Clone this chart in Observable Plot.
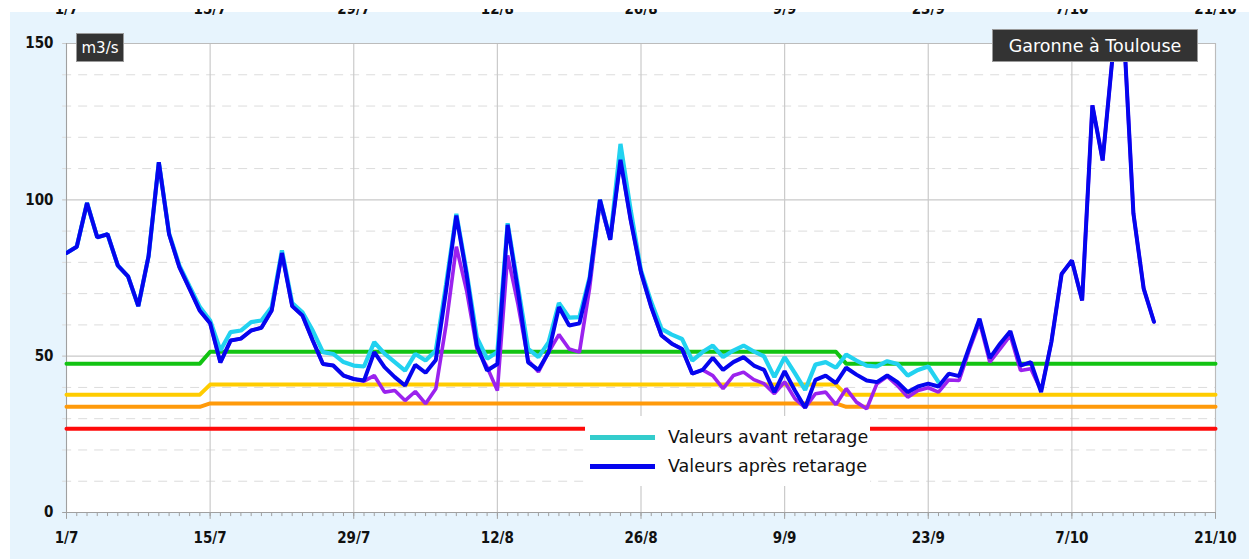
<!DOCTYPE html>
<html>
<head>
<meta charset="utf-8">
<script src="https://cdn.jsdelivr.net/npm/d3@7"></script>
<script src="https://cdn.jsdelivr.net/npm/@observablehq/plot@0.6"></script>
<style>
  html, body { margin: 0; padding: 0; background: #fff; }
  #wrap { position: relative; width: 1249px; height: 559px; overflow: hidden; font-family: "DejaVu Sans", sans-serif; }
  #chart svg { display: block; }
  #mask { position: absolute; left: 0; top: 0; width: 1249px; height: 9px; background: #fff; }
  .tag { position: absolute; box-sizing: border-box; background: #333; color: #fff; border: 1px solid #9a9a9a;
         display: flex; align-items: center; justify-content: center; white-space: nowrap; }
  #unit { left: 76px; top: 33px; width: 48px; height: 29px; font-size: 15px; }
  #title { left: 992px; top: 29px; width: 206px; height: 33px; font-size: 17.5px; }
  #legend { position: absolute; left: 585px; top: 416px; width: 285px; height: 70px; background: #fff; }
  #legend .row { position: absolute; left: 0; height: 20px; display: flex; align-items: center; }
  #legend .sw { position: absolute; left: 5px; width: 65px; height: 5px; }
  #legend .lab { position: absolute; left: 83px; font-size: 17.5px; color: #111; white-space: nowrap; line-height: 20px; }
</style>
</head>
<body>
<div id="wrap">
  <div id="chart"></div>
  <div id="mask"></div>
  <div class="tag" id="unit"></div>
  <div class="tag" id="title"></div>
  <div id="legend"></div>
</div>
<script>
// ---------- data ----------
const year = 2022;
const tickLabels = ["1/7", "15/7", "29/7", "12/8", "26/8", "9/9", "23/9", "7/10", "21/10"];
const yTickValues = [0, 10, 20, 30, 40, 50, 60, 70, 80, 90, 100, 110, 120, 130, 140, 150];
const yLabelValues = [0, 50, 100, 150];
const unitLabel = "m3/s";
const titleLabel = "Garonne à Toulouse";
const seriesNames = ["Valeurs avant retarage", "Valeurs après retarage"];

// daily flows from 1/7 (index 0)
const apres = [83, 85, 99, 88, 89, 79, 75.5, 66, 82, 112,
  89, 78.5, 71.5, 64.5, 60.5, 48, 55, 55.6, 58.2, 59.1,
  64.6, 83, 66, 63, 55, 47.5, 47, 43.8, 42.7, 42.2,
  51.3, 46.5, 43.3, 40.6, 47.2, 44.7, 48.8, 71, 95, 76,
  53.4, 45.4, 47.5, 92, 71, 48, 45.6, 51.3, 65.7, 59.8,
  60.5, 74.7, 100, 87.2, 112.8, 93.4, 76.8, 65.7, 56.6, 54,
  52.3, 44.4, 45.6, 49.5, 45.6, 48.1, 49.7, 47, 45.6, 38.5,
  45.2, 39, 33.5, 42.4, 43.8, 41.4, 46.3, 44.1, 42.2, 41.7,
  43.8, 41.7, 38.5, 40.3, 41.2, 40.3, 44.4, 43.6, 52.9, 62,
  49.4, 54, 58, 47, 48.1, 38.5, 54.5, 76.3, 80.6, 67.8,
  130.2, 112.6, 147, 158, 95.6, 71.6, 61];

const avant = [83, 85, 99, 88, 89, 79, 75.5, 66, 82, 112,
  89.3, 79, 72.3, 65.7, 61.4, 51.8, 57.7, 58.2, 60.9, 61.4,
  65.7, 83.8, 67, 64, 58.2, 51.3, 50.7, 48.1, 47, 46.7,
  54.5, 50.8, 48.1, 45.4, 50.7, 48.6, 51.8, 73, 95.5, 77,
  56, 49.2, 51.3, 92.5, 72.5, 52.3, 49.7, 54.5, 67, 62.3,
  62.5, 75.3, 100, 87.5, 117.9, 96.6, 77.4, 67.3, 58.7, 56.9,
  55.5, 48.6, 51.3, 53.4, 49.7, 51.8, 53.4, 51.5, 49.9, 43.3,
  49.7, 44.6, 39.2, 47.3, 48.1, 46.3, 50.5, 48.6, 47, 46.7,
  48.4, 47.5, 43.8, 45.6, 46.7, 41.7];

const autre = [83, 85, 99, 88, 89, 79, 75.5, 66, 82, 112,
  89, 78.5, 71.5, 64.5, 60.5, 48, 55, 55.6, 58.2, 59.1,
  64.6, 83, 66, 63, 55, 47.5, 47, 43.8, 42.7, 42,
  43.8, 38.5, 39, 35.8, 38.7, 34.8, 39.6, 60, 85, 71,
  52.4, 46.5, 39, 82.2, 66.7, 48.6, 45, 51.3, 56.9, 52.3,
  51.3, 72, 99, 87.2, 112.8, 93.4, 76.8, 65.7, 56.6, 54,
  52.3, 44.4, 45.6, 43.8, 39.6, 43.8, 44.9, 42.5, 41.2, 38,
  41.8, 36.4, 33.5, 38, 38.5, 34.5, 39.6, 35.3, 33.2, 41.2,
  43.5, 40.6, 36.9, 39, 39.9, 38.5, 42.4, 42.2, 52, 60.9,
  48.1, 52.3, 56.6, 45.4, 46, 39, 54.5, 76.3, 80.6, 67.8,
  130.2, 112.6, 147, 158, 95.6, 71.6, 61];

// threshold step lines: day index breakpoints and values
const seuilDays = [0, 13, 14, 75, 76, 112];
const seuilVert = [47.6, 47.6, 51.4, 51.4, 47.6, 47.6];
const seuilJaune = [37.7, 37.7, 40.9, 40.9, 37.7, 37.7];
const seuilOrange = [33.8, 33.8, 34.9, 34.9, 33.8, 33.8];
const seuilRougeDays = [0, 112];
const seuilRouge = [26.8, 26.8];

// ---------- colours ----------
const C = {
  green: "#12c312", yellow: "#ffcc00", orange: "#ff9a0a", red: "#ff0a0a",
  cyan: "#22d2f0", blue: "#0505ee", purple: "#9b22ee", legendCyan: "#33cccc"
};

// ---------- build ----------
const tickDates = tickLabels.map(s => { const [d, m] = s.split("/").map(Number); return new Date(Date.UTC(year, m - 1, d)); });
const start = tickDates[0], end = tickDates[tickDates.length - 1];
const dayOf = i => d3.utcDay.offset(start, i);
const rows = vals => vals.map((v, i) => ({date: dayOf(i), value: v}));
const stepRows = (days, vals) => days.map((d, i) => ({date: dayOf(d), value: vals[i]}));
const allDays = d3.utcDay.range(start, d3.utcDay.offset(end, 1));
const labelOf = d => tickLabels[tickDates.findIndex(t => +t === +d)];
const tickLeft = new Date(+start - 9 * 3600 * 1000);
const axisFont = "'DejaVu Sans Condensed', 'DejaVu Sans', sans-serif";

const chart = Plot.plot({
  width: 1249, height: 559,
  marginLeft: 66, marginRight: 34, marginTop: 43, marginBottom: 47,
  x: {type: "utc", domain: [start, end], axis: null},
  y: {domain: [0, 150], axis: null},
  style: {
    background: "linear-gradient(to bottom, #fff 12px, transparent 12px), linear-gradient(to right, #fff 10px, #e7f4fd 10px)",
    fontFamily: axisFont, fontSize: "15px", color: "#111", overflow: "visible"
  },
  marks: [
    // cut-off labels at the very top
    Plot.text(tickDates, {x: d => d, y: () => 150, dy: -34, text: labelOf, fontWeight: "bold", fill: "#111"}),
    Plot.frame({fill: "#fff", stroke: "none"}),
    Plot.ruleY(yTickValues.filter(v => v % 50 !== 0), {x1: tickLeft, x2: end, stroke: "#dcdcdc", strokeDasharray: "9,7"}),
    Plot.ruleY(yLabelValues.filter(v => v > 0), {x1: tickLeft, x2: end, stroke: "#c9c9c9", strokeWidth: 1.2}),
    Plot.ruleX(tickDates, {stroke: "#cacaca", strokeWidth: 1.2}),
    Plot.frame({stroke: "#bcbcbc"}),
    Plot.ruleX([start], {stroke: "#a0a0a0"}),
    Plot.ruleY([0], {x1: tickLeft, x2: end, stroke: "#a0a0a0"}),
    Plot.ruleX(allDays, {y1: 0, y2: -1.3, stroke: "#a0a0a0"}),
    Plot.ruleX(tickDates, {y1: 0, y2: -2.2, stroke: "#a0a0a0"}),
    // thresholds
    Plot.line(stepRows(seuilDays, seuilVert), {x: "date", y: "value", stroke: C.green, strokeWidth: 4}),
    Plot.line(stepRows(seuilDays, seuilJaune), {x: "date", y: "value", stroke: C.yellow, strokeWidth: 4}),
    Plot.line(stepRows(seuilDays, seuilOrange), {x: "date", y: "value", stroke: C.orange, strokeWidth: 4}),
    Plot.line(stepRows(seuilRougeDays, seuilRouge), {x: "date", y: "value", stroke: C.red, strokeWidth: 4}),
    // series
    Plot.line(rows(autre), {x: "date", y: "value", stroke: C.purple, strokeWidth: 3.6, strokeLinejoin: "miter", clip: true}),
    Plot.line(rows(avant), {x: "date", y: "value", stroke: C.cyan, strokeWidth: 4.2, strokeLinejoin: "miter", clip: true}),
    Plot.line(rows(apres), {x: "date", y: "value", stroke: C.blue, strokeWidth: 4, strokeLinejoin: "miter", clip: true}),
    // axis labels
    Plot.text(yLabelValues, {x: () => start, y: d => d, dx: -13, textAnchor: "end", text: d => String(d), fontWeight: "bold", fill: "#111"}),
    Plot.text(tickDates, {x: d => d, y: () => 0, dy: 26, text: labelOf, fontWeight: "bold", fill: "#111"})
  ]
});
document.getElementById("chart").appendChild(chart);

document.getElementById("unit").textContent = unitLabel;
document.getElementById("title").textContent = titleLabel;
const legend = document.getElementById("legend");
[[seriesNames[0], C.legendCyan, 11], [seriesNames[1], C.blue, 40]].forEach(([name, col, top]) => {
  const row = document.createElement("div");
  row.className = "row"; row.style.top = top + "px"; row.style.width = "285px";
  const sw = document.createElement("span"); sw.className = "sw"; sw.style.background = col;
  const lab = document.createElement("span"); lab.className = "lab"; lab.textContent = name;
  row.appendChild(sw); row.appendChild(lab); legend.appendChild(row);
});
</script>
</body>
</html>
